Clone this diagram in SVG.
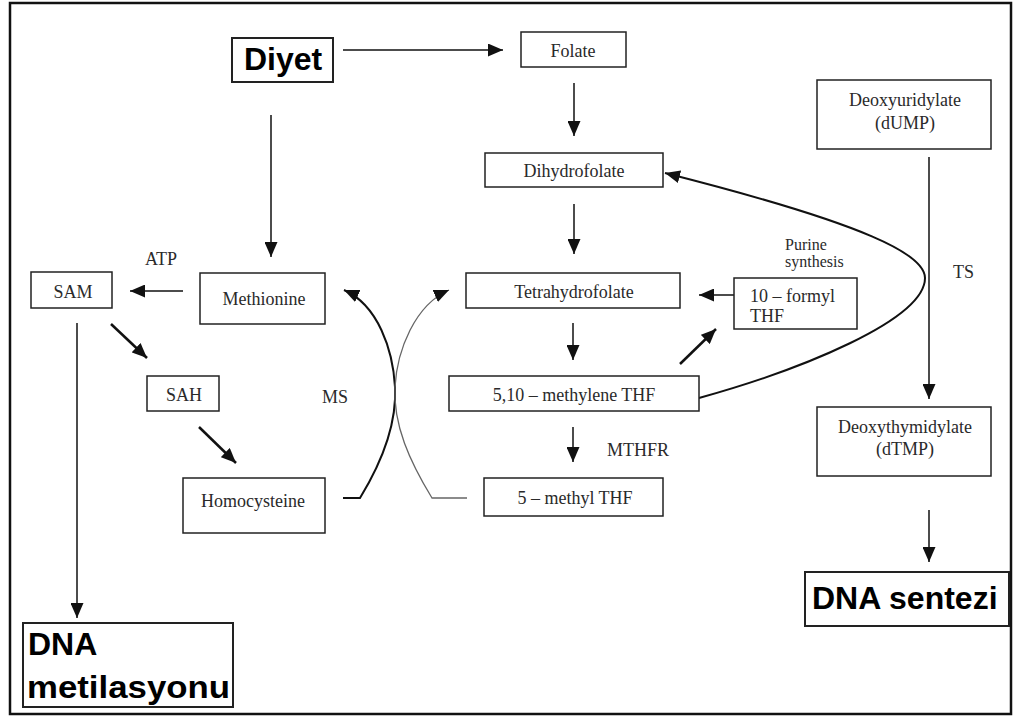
<svg xmlns="http://www.w3.org/2000/svg" width="1013" height="716" viewBox="0 0 1013 716">
<style>
.box{fill:#fff;stroke:#222;stroke-width:1.5}
.bbox{fill:#fff;stroke:#222;stroke-width:2}
.t{font-family:"Liberation Serif","Times New Roman",serif;font-size:18px;fill:#2a2a2a}
.c{text-anchor:middle}
.b{font-family:"Liberation Sans",Arial,sans-serif;font-weight:bold;font-size:32px;fill:#000}
.ln{fill:none;stroke:#111;stroke-width:1.5;marker-end:url(#ah)}
.thk{stroke-width:2.5}
.gr{stroke:#666;stroke-width:1.3}
</style>
<defs>
<marker id="ah" markerUnits="userSpaceOnUse" markerWidth="15" markerHeight="13" refX="15" refY="6.5" orient="auto">
<path d="M0,0 L15,6.5 L0,13 Z" fill="#111"/>
</marker>
</defs>
<rect x="0" y="0" width="1013" height="716" fill="#fff"/>
<rect x="10" y="3" width="1001" height="711" fill="none" stroke="#111" stroke-width="2.5"/>

<g id="connectors">
<path class="ln" d="M343,50 H503"/>
<path class="ln" d="M574,83 V136"/>
<path class="ln" d="M574,204 V254"/>
<path class="ln" d="M573,323 V360"/>
<path class="ln" d="M573,427 V462"/>
<path class="ln" d="M271,115 V257"/>
<path class="ln" d="M183,291 H130"/>
<path class="ln thk" d="M111,324 L147,358"/>
<path class="ln thk" d="M199,427 L236,463"/>
<path class="ln" d="M77,323 V618"/>
<path class="ln" d="M734,295 H699"/>
<path class="ln thk" d="M680,364 L716,329"/>
<path class="ln" d="M929,157 V399"/>
<path class="ln" d="M929,510 V562"/>
<path class="ln thk" style="stroke-width:2" d="M699,398 C800,370 925,320 925,278 C925,255 870,225 665,173"/>
<path class="ln" style="stroke-width:2" d="M343,498 H360 C382,462 397,425 395,387 C393,350 378,305 344,290"/>
<path class="ln gr" d="M467,498 H432 C410,462 393,425 395,387 C397,350 415,305 449,290"/>
</g>

<g id="diyet"><rect class="bbox" x="232" y="38" width="101" height="44"/><text class="b c" x="283" y="70">Diyet</text></g>
<g id="folate"><rect class="box" x="521" y="32" width="105" height="35"/><text class="t c" x="573" y="57">Folate</text></g>
<g id="dihydrofolate"><rect class="box" x="485" y="153" width="178" height="34"/><text class="t c" x="574" y="177">Dihydrofolate</text></g>
<g id="tetrahydrofolate"><rect class="box" x="466" y="273" width="214" height="35"/><text class="t c" x="574" y="298">Tetrahydrofolate</text></g>
<g id="methylene"><rect class="box" x="449" y="376" width="250" height="35"/><text class="t c" x="574" y="401">5,10 – methylene THF</text></g>
<g id="methylthf"><rect class="box" x="484" y="478" width="179" height="38"/><text class="t c" x="575" y="504">5 – methyl THF</text></g>
<g id="methionine"><rect class="box" x="200" y="273" width="125" height="51"/><text class="t c" x="264" y="305">Methionine</text></g>
<g id="sam"><rect class="box" x="31" y="272" width="81" height="36"/><text class="t c" x="73" y="298">SAM</text></g>
<g id="sah"><rect class="box" x="147" y="376" width="72" height="35"/><text class="t c" x="184" y="401">SAH</text></g>
<g id="homocysteine"><rect class="box" x="183" y="478" width="142" height="55"/><text class="t c" x="253" y="507">Homocysteine</text></g>
<g id="formyl"><rect class="box" x="734" y="278" width="123" height="51"/><text class="t" x="750" y="302">10 – formyl</text><text class="t" x="750" y="322">THF</text></g>
<g id="dump"><rect class="box" x="817" y="80" width="174" height="69"/><text class="t c" x="905" y="106">Deoxyuridylate</text><text class="t c" x="905" y="129">(dUMP)</text></g>
<g id="dtmp"><rect class="box" x="817" y="407" width="174" height="69"/><text class="t c" x="905" y="433">Deoxythymidylate</text><text class="t c" x="905" y="455">(dTMP)</text></g>
<g id="dnasentezi"><rect class="bbox" x="805" y="572" width="204" height="54"/><text class="b" x="812" y="609">DNA sentezi</text></g>
<g id="dnametil"><rect class="bbox" x="23" y="623" width="210" height="84"/><text class="b" x="28" y="655">DNA</text><text class="b" x="27" y="698" textLength="203" lengthAdjust="spacingAndGlyphs">metilasyonu</text></g>

<g id="labels">
<text class="t" x="145" y="265">ATP</text>
<text class="t" x="322" y="403">MS</text>
<text class="t" x="607" y="456">MTHFR</text>
<text class="t" x="953" y="278">TS</text>
<text class="t" style="font-size:16px" x="785" y="250">Purine</text>
<text class="t" style="font-size:16px" x="785" y="267">synthesis</text>
</g>
</svg>
